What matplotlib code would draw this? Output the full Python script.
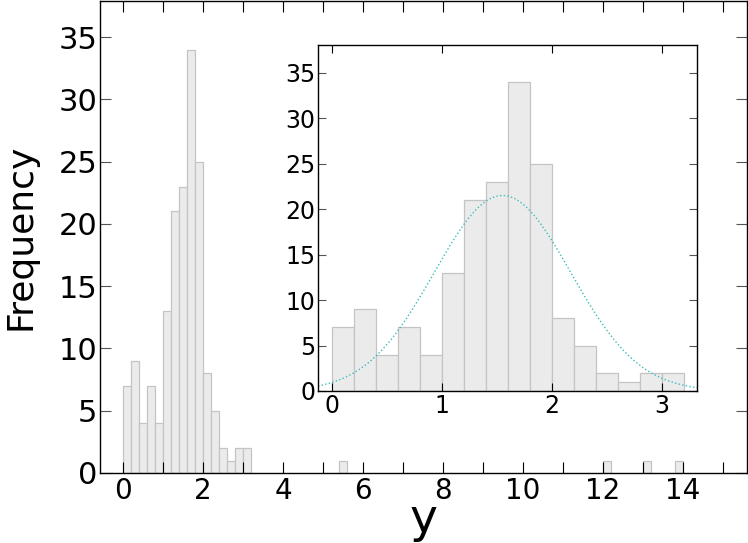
import numpy as np
import matplotlib
matplotlib.use("Agg")
import matplotlib.pyplot as plt

# Histogram data (bin width 0.2)
bin_width = 0.2
bin_starts = [0.0, 0.2, 0.4, 0.6, 0.8, 1.0, 1.2, 1.4, 1.6, 1.8, 2.0, 2.2, 2.4, 2.6, 2.8, 3.0,
              5.4, 12.0, 13.0, 13.8]
bin_counts = [7, 9, 4, 7, 4, 13, 21, 23, 34, 25, 8, 5, 2, 1, 2, 2,
              1, 1, 1, 1]
n_inset = 16  # bins shown in the inset (0 to 3.2)

# Normal fit parameters shown in the inset
fit_mean = 1.55
fit_std = 0.62
fit_peak = 21.5

main_xticks = [0, 2, 4, 6, 8, 10, 12, 14]
main_yticks = [0, 5, 10, 15, 20, 25, 30, 35]
inset_xticks = [0, 1, 2, 3]
inset_yticks = [0, 5, 10, 15, 20, 25, 30, 35]

bar_face = '#ebebeb'
bar_edge = '#c4c4c4'

fig = plt.figure(figsize=(7.48, 5.43), dpi=100)
ax = fig.add_axes([100/748, 1 - 473/543, (747 - 100)/748, (473 - 1)/543])

ax.bar(bin_starts, bin_counts, width=bin_width, align='edge',
       facecolor=bar_face, edgecolor=bar_edge, linewidth=0.9)
ax.set_xlim(-0.575, 15.6)
ax.set_ylim(0, 37.9)
ax.set_xticks(main_xticks)
ax.set_yticks(main_yticks)
ax.set_xticks(np.arange(1, 16, 2), minor=True)
ax.tick_params(axis='both', which='both', direction='in', top=True, right=True,
               length=8, width=0.8)
ax.tick_params(axis='x', which='major', labelsize=20, pad=3)
ax.tick_params(axis='y', labelsize=22, pad=2, colors='#555555', labelcolor='black')
ax.tick_params(axis='x', which='minor', labelbottom=False, length=8)
ax.set_xlabel('y', fontsize=34, labelpad=-6)
ax.set_ylabel('Frequency', fontsize=26, labelpad=15)
for s in ax.spines.values():
    s.set_linewidth(1.0)

# Inset
axi = fig.add_axes([318/748, 1 - 391/543, (697 - 318)/748, (391 - 45)/543])
axi.bar(bin_starts[:n_inset], bin_counts[:n_inset], width=bin_width, align='edge',
        facecolor=bar_face, edgecolor=bar_edge, linewidth=0.9)
xlo, xhi = -0.127, 3.318
xs = np.linspace(xlo, xhi, 400)
ys = fit_peak * np.exp(-0.5 * ((xs - fit_mean) / fit_std) ** 2)
axi.plot(xs, ys, linestyle=':', color='#3cbcbc', linewidth=1.0)
axi.set_xlim(xlo, xhi)
axi.set_ylim(0, 38.05)
axi.set_xticks(inset_xticks)
axi.set_yticks(inset_yticks)
axi.tick_params(axis='both', direction='in', top=True, right=True,
                labelsize=17, length=6, width=0.8, pad=2)
axi.tick_params(axis='y', colors='#555555', labelcolor='black')
for s in axi.spines.values():
    s.set_linewidth(1.0)

fig.savefig('out.png', dpi=100)
